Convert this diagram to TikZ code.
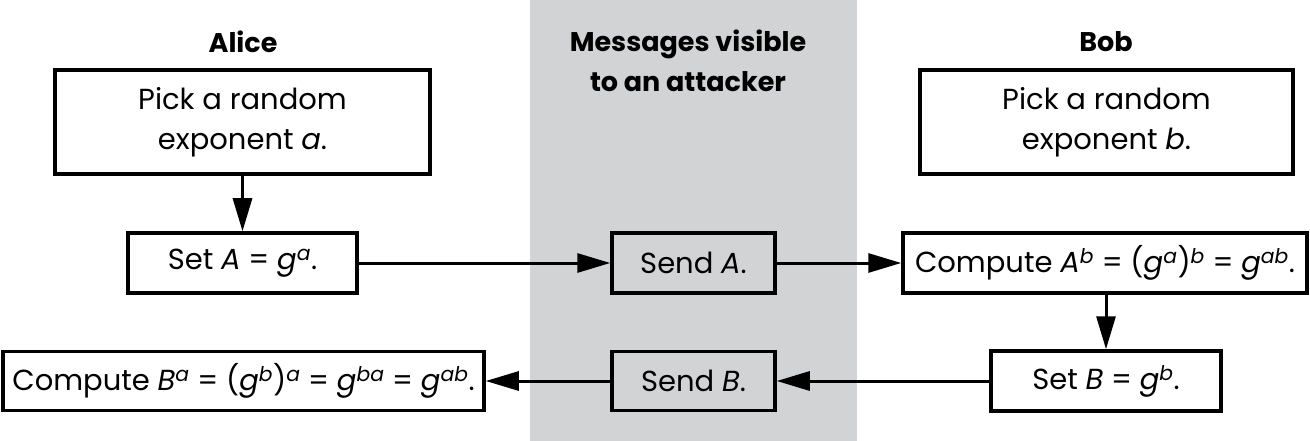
\documentclass[tikz,border=0pt]{standalone}
\usepackage{fontspec}
\setmainfont{Poppins}
\usetikzlibrary{arrows.meta}
\definecolor{band}{HTML}{D1D3D4}
\newcommand\supi[1]{\textsuperscript{\itshape #1}}
\begin{document}
\begin{tikzpicture}[x=1pt,y=-1pt,
  box/.style={draw=black,line width=3.5pt,fill=white,inner sep=0pt,align=center,
    font=\fontsize{29}{40}\selectfont},
  ttl/.style={align=center,font=\fontsize{27}{40}\selectfont\bfseries},
  arr/.style={line width=3pt,-{Triangle[length=33pt,width=19pt]}}]
\useasboundingbox (0,0) rectangle (1310,441);
\fill[band] (530,0) rectangle (857,441);
\node[ttl] (alice) at (243,42) {Alice};
\node[ttl] (bob) at (1106,42) {Bob};
\node[ttl] (msg) at (688,61) {Messages visible\\to an attacker};
\node[box,minimum width=375pt,minimum height=104pt] (pa) at (242.5,122) {Pick a random\\exponent \textit{a}.};
\node[box,minimum width=373pt,minimum height=104pt] (pb) at (1106.5,122) {Pick a random\\exponent \textit{b}.};
\node[box,minimum width=229pt,minimum height=60pt] (setA) at (242.5,263) {Set \textit{A} = \textit{g}\supi{a}.};
\node[box,fill=band,minimum width=163pt,minimum height=60pt] (sendA) at (693.5,263) {Send \textit{A}.};
\node[box,minimum width=404pt,minimum height=60pt] (compA) at (1105,263) {Compute \textit{A}\supi{b} = (\textit{g}\supi{a})\supi{b} = \textit{g}\supi{ab}.};
\node[box,minimum width=230pt,minimum height=60pt] (setB) at (1106,381) {Set \textit{B} = \textit{g}\supi{b}.};
\node[box,fill=band,minimum width=163pt,minimum height=59pt] (sendB) at (693.5,381) {Send \textit{B}.};
\node[box,minimum width=481pt,minimum height=59pt] (compB) at (243.5,381) {Compute \textit{B}\supi{a} = (\textit{g}\supi{b})\supi{a} = \textit{g}\supi{ba} = \textit{g}\supi{ab}.};
\draw[arr] (pa.south) -- (setA.north);
\draw[arr] (setA.east) -- (sendA.west);
\draw[arr] (sendA.east) -- (compA.west);
\draw[arr] (compA.south -| setB.north) -- (setB.north);
\draw[arr] (setB.west) -- (sendB.east);
\draw[arr] (sendB.west) -- (compB.east);
\end{tikzpicture}
\end{document}
